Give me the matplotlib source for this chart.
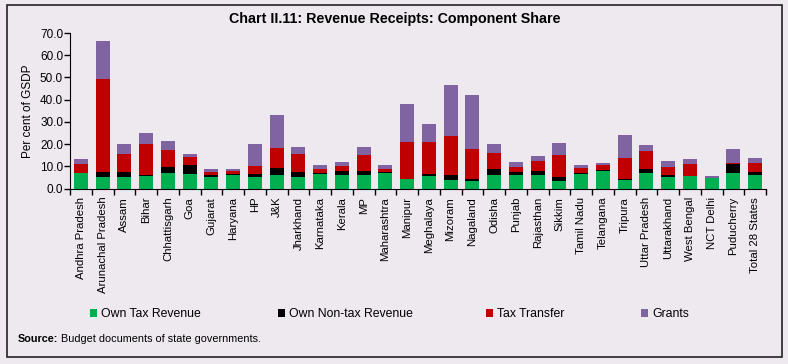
import numpy as np
from matplotlib import pyplot as plt
from matplotlib.patches import Rectangle

plt.rcParams['font.family'] = ['Liberation Sans', 'DejaVu Sans']

states = ['Andhra Pradesh', 'Arunachal Pradesh', 'Assam', 'Bihar', 'Chhattisgarh', 'Goa',
          'Gujarat', 'Haryana', 'HP', 'J&K', 'Jharkhand', 'Karnataka', 'Kerala', 'MP',
          'Maharashtra', 'Manipur', 'Meghalaya', 'Mizoram', 'Nagaland', 'Odisha', 'Punjab',
          'Rajasthan', 'Sikkim', 'Tamil Nadu', 'Telangana', 'Tripura', 'Uttar Pradesh',
          'Uttarakhand', 'West Bengal', 'NCT Delhi', 'Puducherry', 'Total 28 States']

own_tax = [6.9, 5.0, 5.0, 5.7, 7.2, 6.6, 5.4, 5.9, 5.0, 6.3, 5.0, 6.6, 6.3, 6.3,
           7.2, 4.1, 5.6, 3.9, 3.2, 6.3, 5.9, 6.2, 3.2, 6.5, 7.7, 3.8, 7.2,
           5.1, 5.6, 4.7, 7.2, 6.3]
own_nontax = [0.3, 2.4, 2.5, 0.6, 2.5, 3.8, 0.6, 0.7, 1.6, 2.9, 2.4, 0.3, 1.7, 1.7,
              0.3, 0.4, 1.0, 2.1, 0.9, 2.6, 1.5, 1.6, 2.2, 0.7, 0.7, 0.7, 1.8,
              1.1, 0.2, 0.1, 4.0, 1.1]
tax_transfer = [3.8, 42.1, 8.0, 13.8, 7.6, 3.9, 1.5, 1.2, 3.5, 8.9, 8.1, 1.8, 2.1, 7.1,
                1.5, 16.6, 14.5, 17.7, 13.7, 7.1, 2.3, 4.6, 9.5, 2.0, 2.2, 9.4, 8.0,
                3.3, 5.2, 0.0, 0.1, 3.9]
grants = [2.3, 16.9, 4.6, 4.8, 4.3, 1.4, 1.5, 0.9, 10.0, 14.9, 3.4, 2.0, 1.8, 3.6,
          1.6, 17.1, 7.9, 22.9, 24.4, 4.2, 2.1, 2.2, 5.6, 1.5, 1.0, 10.4, 2.8,
          3.0, 2.4, 0.9, 6.4, 2.6]

series = [('Own Tax Revenue', own_tax, '#00B050'),
          ('Own Non-tax Revenue', own_nontax, '#000000'),
          ('Tax Transfer', tax_transfer, '#C00000'),
          ('Grants', grants, '#8064A2')]

bg = '#EEE9EF'
fig = plt.figure(figsize=(7.88, 3.64), dpi=100, facecolor=bg)
ax = fig.add_axes([70 / 788, 1 - 188.5 / 364, 696 / 788, 155.5 / 364])
ax.set_facecolor(bg)

x = np.arange(len(states))
bottom = np.zeros(len(states))
handles = []
for name, vals, col in series:
    vals = np.array(vals)
    b = ax.bar(x, vals, 0.64, bottom=bottom, color=col, label=name, linewidth=0)
    handles.append(b)
    bottom += vals

ax.set_xlim(-0.5, len(states) - 0.5)
ax.set_ylim(0, 70)
ax.set_yticks(np.arange(0, 71, 10))
ax.set_yticklabels([f'{v:.1f}' for v in np.arange(0, 71, 10)], fontsize=8.5)
ax.set_xticks(x)
ax.set_xticklabels(states, rotation=90, fontsize=8.2)
ax.set_xticks(np.arange(-0.5, len(states), 1), minor=True)
ax.tick_params(axis='x', which='major', length=0, pad=6)
ax.tick_params(axis='x', which='minor', length=4, width=1)
ax.tick_params(axis='y', length=4, width=1, pad=1)
ax.spines['top'].set_visible(False)
ax.spines['right'].set_visible(False)
ax.set_ylabel('Per cent of GSDP', fontsize=8.5, labelpad=4)

fig.text(395 / 788, 1 - 19 / 364, 'Chart II.11: Revenue Receipts: Component Share',
         ha='center', va='center', fontsize=10.3, fontweight='bold')

leg_x = [90, 278, 486, 641]
for h, (name, _, _), lx in zip(handles, series, leg_x):
    fig.legend([h], [name], loc='center left', bbox_to_anchor=(lx / 788, 1 - 314 / 364),
               frameon=False, fontsize=8.8, handlelength=0.6, handleheight=0.6,
               handletextpad=0.3, borderpad=0, borderaxespad=0)

fig.text(18 / 788, 1 - 339 / 364, 'Source:', fontsize=7.8, fontweight='bold', va='center')
fig.text(61 / 788, 1 - 339 / 364, 'Budget documents of state governments.', fontsize=7.8,
         va='center')

fig.patches.append(Rectangle((7 / 788, 1 - 357 / 364), 775 / 788, 352 / 364,
                             transform=fig.transFigure, fill=False, edgecolor='#222222',
                             linewidth=1.2))

fig.savefig('out.png', dpi=100, facecolor=bg)
